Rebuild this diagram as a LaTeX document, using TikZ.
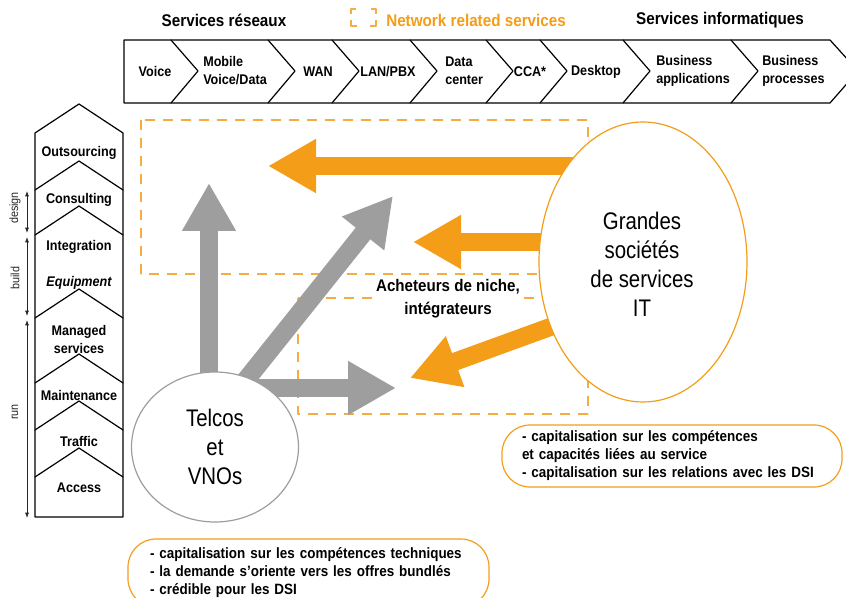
\documentclass[tikz,border=0pt]{standalone}
\usepackage{fontspec}
\setmainfont{Liberation Sans}[FakeStretch=0.9]
\newfontfamily\bigfont{Liberation Sans}[FakeStretch=0.85]
\usetikzlibrary{arrows.meta,shapes.geometric}
\definecolor{orangeA}{RGB}{243,157,24}
\definecolor{orangeD}{RGB}{245,172,66}
\definecolor{grayA}{RGB}{158,158,158}

\begin{document}
\begin{tikzpicture}[line cap=round,line join=round,x=0.75pt,y=-0.75pt,
  txt/.style={font=\fontsize{10.5}{13.5}\selectfont\bfseries,inner sep=0pt,align=left},
  head/.style={font=\fontsize{12.7}{14}\selectfont\bfseries,inner sep=0pt},
  big/.style={font=\bigfont\fontsize{18}{21.75}\selectfont,align=center,inner sep=0pt},
  side/.style={font=\fontsize{9}{11}\selectfont,rotate=90,inner sep=0pt,text=black!85},
  zone/.style={draw=orangeD,line width=1.2pt,dash pattern=on 7.5pt off 6pt,line cap=butt},
  grayarrow/.style={draw=grayA,line width=14pt,line cap=butt,-{Triangle[length=36pt,width=38pt]}},
  orangearrow/.style={draw=orangeA,line width=13.5pt,line cap=butt,-{Triangle[length=36pt,width=38pt]}},
  infobox/.style={draw=orangeA,line width=0.9pt,rounded corners=21pt,align=left,
    font=\fontsize{11.2}{13.5}\selectfont\bfseries,inner ysep=0pt}]
\clip (0,0) rectangle (846,598);

% titles
\node[head] (reseaux) at (224,20) {Services réseaux};
\node[head,text=orangeA,anchor=west] (network) at (386,20) {Network related services};
\node[head] (info) at (720,20) {Services informatiques};
\draw[orangeD,line width=1.1pt,line cap=butt] (351,14)--(351,9)--(356,9) (371,9)--(376,9)--(376,14);
\draw[orangeD,line width=1.1pt,line cap=butt] (351,20)--(351,26)--(357,26) (370,26)--(376,26)--(376,20);

% chevron bar
\draw[line width=0.9pt] (124,40)--(830,40)--(858,71)--(830,103)--(124,103)--cycle;
\draw[line width=0.9pt] (171,40)--(198,71)--(171,103);
\draw[line width=0.9pt] (268,40)--(295,71)--(268,103);
\draw[line width=0.9pt] (332,40)--(359,71)--(332,103);
\draw[line width=0.9pt] (410,40)--(437,71)--(410,103);
\draw[line width=0.9pt] (486,40)--(513,71)--(486,103);
\draw[line width=0.9pt] (540,40)--(567,71)--(540,103);
\draw[line width=0.9pt] (623,40)--(650,71)--(623,103);
\draw[line width=0.9pt] (731,40)--(758,71)--(731,103);
\node[txt] (voice) at (155,72) {Voice};
\node[txt,anchor=west] (mobile) at (203,71) {Mobile\\Voice/Data};
\node[txt] (wan) at (318,72) {WAN};
\node[txt] (lan) at (388,72) {LAN/PBX};
\node[txt,anchor=west] (dc) at (445,71) {Data\\center};
\node[txt] (cca) at (530,72) {CCA*};
\node[txt] (desktop) at (596,72) {Desktop};
\node[txt,anchor=west] (bapp) at (656,71) {Business\\applications};
\node[txt,anchor=west] (bproc) at (762,71) {Business\\processes};

% value chain column
\draw[line width=0.9pt] (35,133)--(79,104)--(123,133)--(123,517)--(35,517)--cycle;
\draw[line width=0.9pt] (35,190)--(79,161)--(123,190);
\draw[line width=0.9pt] (35,235)--(79,206)--(123,235);
\draw[line width=0.9pt] (35,318)--(79,289)--(123,318);
\draw[line width=0.9pt] (35,383)--(79,354)--(123,383);
\draw[line width=0.9pt] (35,430)--(79,401)--(123,430);
\draw[line width=0.9pt] (35,477)--(79,448)--(123,477);
\node[txt] (outs) at (79,153) {Outsourcing};
\node[txt] (cons) at (79,200) {Consulting};
\node[txt] (integ) at (79,247) {Integration};
\node[txt] (equip) at (79,283) {\itshape Equipment};
\node[txt,align=center] (managed) at (79,339) {Managed\\services};
\node[txt] (maint) at (79,395) {Maintenance};
\node[txt] (traffic) at (79,441) {Traffic};
\node[txt] (access) at (79,488) {Access};
\coordinate (d1) at (27,191); \coordinate (d2) at (27,233);
\coordinate (b1) at (27,237); \coordinate (b2) at (27,316);
\coordinate (r1) at (27,320); \coordinate (r2) at (27,518);
\draw[black!85,line width=0.6pt,{Latex[length=4pt,width=3pt]}-{Latex[length=4pt,width=3pt]}] (d1)--(d2);
\draw[black!85,line width=0.6pt,{Latex[length=4pt,width=3pt]}-{Latex[length=4pt,width=3pt]}] (b1)--(b2);
\draw[black!85,line width=0.6pt,{Latex[length=4pt,width=3pt]}-{Latex[length=4pt,width=3pt]}] (r1)--(r2);
\node[side] (design) at (15,208) {design};
\node[side] (build) at (15,278) {build};
\node[side] (run) at (15,412) {run};

% network zones
\draw[zone] (141,120) rectangle (588,274);
\draw[zone] (298,298) rectangle (588,414);

% arrows
\coordinate (g1s) at (209,420); \coordinate (g1e) at (209,183);
\coordinate (g2s) at (226,405); \coordinate (g2e) at (393,196);
\coordinate (g3s) at (215,388); \coordinate (g3e) at (396,388);
\coordinate (o1s) at (620,166); \coordinate (o1e) at (268,166);
\coordinate (o2s) at (620,242); \coordinate (o2e) at (413,242);
\coordinate (o3s) at (575,318); \coordinate (o3e) at (410,378);
\draw[grayarrow] (g1s)--(g1e);
\draw[grayarrow] (g2s)--(g2e);
\draw[grayarrow] (g3s)--(g3e);
\draw[orangearrow] (o1s)--(o1e);
\draw[orangearrow] (o2s)--(o2e);
\draw[orangearrow] (o3s)--(o3e);

% actors
\node[ellipse,draw=grayA,line width=0.9pt,fill=white,minimum width=125.25pt,minimum height=112.5pt,inner sep=0pt] (telcos) at (215,447) {};
\node[big] (telcostxt) at (telcos.center) {Telcos\\et\\VNOs};
\node[ellipse,draw=orangeA,line width=0.9pt,fill=white,minimum width=156pt,minimum height=210pt,inner sep=0pt] (ssii) at (643,262) {};
\node[big] (ssiitxt) at (642,264) {Grandes\\sociétés\\de services\\IT};
\node[fill=white,font=\fontsize{12.6}{17.25}\selectfont\bfseries,align=center,inner sep=1pt] (niche) at (448,299) {Acheteurs de niche,\\intégrateurs};

% comments boxes
\node[infobox,minimum width=255pt,minimum height=46.5pt,text width=225pt,inner xsep=15pt] (ssiibox) at (672,456) {- capitalisation sur les compétences\\et capacités liées au service\\- capitalisation sur les relations avec les DSI};
\node[infobox,minimum width=270.75pt,minimum height=51pt,text width=237.75pt,inner xsep=16.5pt] (telcobox) at (308.5,573) {- capitalisation sur les compétences techniques\\- la demande s'oriente vers les offres bundlés\\- crédible pour les DSI};
\end{tikzpicture}
\end{document}
